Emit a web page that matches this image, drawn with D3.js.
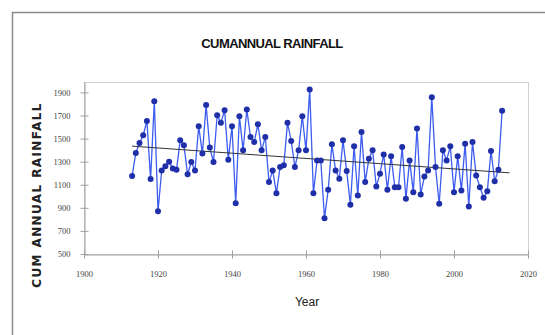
<!DOCTYPE html>
<html>
<head>
<meta charset="utf-8">
<script src="https://cdn.jsdelivr.net/npm/d3@7"></script>
<style>
  body { margin: 0; background: #fff; }
  svg { display: block; }
</style>
</head>
<body>
<svg id="chart" width="545" height="335"></svg>
<script>
// data
const years = d3.range(1913, 2014);
const rainfall = [
  1175, 1375, 1462, 1529, 1653, 1149, 1824, 870, 1224, 1260,
  1300, 1240, 1230, 1485, 1442, 1190, 1297, 1224, 1607, 1370,
  1790, 1422, 1297, 1703, 1636, 1746, 1317, 1607, 940, 1694,
  1398, 1752, 1514, 1470, 1624, 1398, 1514, 1123, 1224, 1027,
  1253, 1268, 1636, 1479, 1253, 1398, 1694, 1398, 1926, 1027,
  1311, 1311, 810, 1057, 1450, 1224, 1152, 1485, 1218, 926,
  1433, 1007, 1557, 1123, 1326, 1398, 1085, 1196, 1363, 1057,
  1346, 1079, 1079, 1427, 978, 1311, 1036, 1587, 1016, 1172,
  1224, 1857, 1253, 935, 1398, 1311, 1433, 1036, 1346, 1050,
  1456, 911, 1470, 1181, 1079, 987, 1044, 1392, 1131, 1230,
  1740
];
const xTicks = [1900, 1920, 1940, 1960, 1980, 2000, 2020];
const yTicks = [500, 700, 900, 1100, 1300, 1500, 1700, 1900];

const data = years.map((y, i) => ({ year: y, value: rainfall[i] }));

const svg = d3.select("#chart");
const plotL = 84, plotR = 528, plotT = 82, plotB = 254;

const x = d3.scaleLinear().domain([1900, 2020]).range([plotL, plotR]);
const y = d3.scaleLinear().domain([500, 1990]).range([plotB, plotT]);

// outer chart frame
svg.append("rect")
  .attr("x", 12.5).attr("y", 12.5)
  .attr("width", 560).attr("height", 340)
  .attr("fill", "#fff")
  .attr("stroke", "#8a8a8a")
  .attr("stroke-width", 1.5);

// plot area frame
svg.append("rect")
  .attr("x", plotL + 0.5).attr("y", plotT + 0.5)
  .attr("width", plotR - plotL).attr("height", plotB - plotT)
  .attr("fill", "none")
  .attr("stroke", "#d0d0d0");

// axes
const xAxis = svg.append("g")
  .attr("transform", `translate(0,${plotB + 0.5})`)
  .call(d3.axisBottom(x).tickValues(xTicks).tickFormat(d3.format("d")).tickSizeInner(4).tickSizeOuter(0).tickPadding(12));
xAxis.selectAll(".tick line").attr("y1", -4).attr("stroke", "#a0a0a0");
xAxis.select(".domain").attr("stroke", "#a0a0a0");

const yAxis = svg.append("g")
  .attr("transform", `translate(${plotL + 0.5},0)`)
  .call(d3.axisLeft(y).tickValues(yTicks).tickFormat(d3.format("d")).tickSizeInner(4).tickSizeOuter(0).tickPadding(10));
yAxis.selectAll(".tick line").attr("x1", -4).attr("x2", 4).attr("stroke", "#a0a0a0");
yAxis.select(".domain").attr("stroke", "#a0a0a0");

svg.selectAll(".tick text")
  .attr("font-family", "Liberation Serif, serif")
  .attr("font-size", 8.5)
  .attr("fill", "#444");

// linear trend
const mx = d3.mean(data, d => d.year), my = d3.mean(data, d => d.value);
const slope = d3.sum(data, d => (d.year - mx) * (d.value - my)) / d3.sum(data, d => (d.year - mx) ** 2);
const icpt = my - slope * mx;
const trendYears = [1913, 2015];

// series line
svg.append("path")
  .datum(data)
  .attr("fill", "none")
  .attr("stroke", "#3d5cf0")
  .attr("stroke-width", 1.3)
  .attr("d", d3.line().x(d => x(d.year)).y(d => y(d.value)));

svg.append("line")
  .attr("x1", x(trendYears[0])).attr("y1", y(icpt + slope * trendYears[0]))
  .attr("x2", x(trendYears[1])).attr("y2", y(icpt + slope * trendYears[1]))
  .attr("stroke", "#333")
  .attr("stroke-width", 1);

svg.append("g")
  .selectAll("circle")
  .data(data)
  .join("circle")
  .attr("cx", d => x(d.year))
  .attr("cy", d => y(d.value))
  .attr("r", 3)
  .attr("fill", "#1f2fa8");

// title and axis titles
svg.append("text")
  .attr("x", 272).attr("y", 48)
  .attr("text-anchor", "middle")
  .attr("font-family", "Liberation Sans, Arial, sans-serif")
  .attr("font-weight", "bold")
  .attr("font-size", 13)
  .attr("letter-spacing", -0.6)
  .attr("fill", "#111")
  .text("CUMANNUAL RAINFALL");

svg.append("text")
  .attr("transform", "translate(41,195) rotate(-90)")
  .attr("text-anchor", "middle")
  .attr("font-family", "DejaVu Sans, sans-serif")
  .attr("font-weight", "bold")
  .attr("font-size", 12)
  .attr("letter-spacing", 1.4)
  .attr("fill", "#222")
  .text("CUM ANNUAL RAINFALL");

svg.append("text")
  .attr("x", 307).attr("y", 306)
  .attr("text-anchor", "middle")
  .attr("font-family", "Liberation Sans, Arial, sans-serif")
  .attr("font-size", 12)
  .attr("fill", "#222")
  .text("Year");
</script>
</body>
</html>
